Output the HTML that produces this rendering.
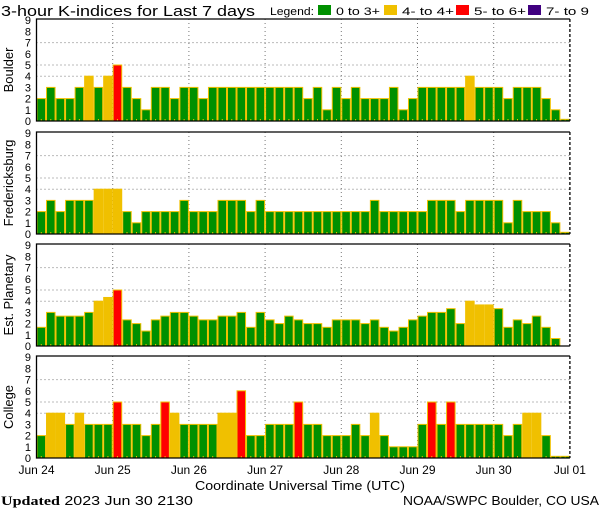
<!DOCTYPE html>
<html><head><meta charset="utf-8"><style>
body{margin:0;background:#fff;}
svg{display:block;font-family:"Liberation Sans",sans-serif;}
</style></head><body>
<svg id="s" width="600" height="510" xmlns="http://www.w3.org/2000/svg">
<text x="1" y="16" font-size="15" textLength="254" lengthAdjust="spacingAndGlyphs">3-hour K-indices for Last 7 days</text>
<text x="270" y="15" font-size="11" textLength="44" lengthAdjust="spacingAndGlyphs">Legend:</text>
<rect x="318" y="5" width="13" height="10" fill="#009000"/>
<text x="336" y="15" font-size="11" textLength="44" lengthAdjust="spacingAndGlyphs">0 to 3+</text>
<rect x="384" y="5" width="13" height="10" fill="#f0c000"/>
<text x="402" y="15" font-size="11" textLength="52" lengthAdjust="spacingAndGlyphs">4- to 4+</text>
<rect x="456" y="5" width="13" height="10" fill="#ff0000"/>
<text x="474" y="15" font-size="11" textLength="52" lengthAdjust="spacingAndGlyphs">5- to 6+</text>
<rect x="528" y="5" width="13" height="10" fill="#400080"/>
<text x="546" y="15" font-size="11" textLength="43" lengthAdjust="spacingAndGlyphs">7- to 9</text>
<text x="300" y="490" font-size="13" text-anchor="middle" textLength="210" lengthAdjust="spacingAndGlyphs">Coordinate Universal Time (UTC)</text>
<text x="1" y="505" font-size="13" textLength="192" lengthAdjust="spacingAndGlyphs"><tspan font-weight="bold" font-family="Liberation Serif">Updated</tspan> 2023 Jun 30 2130</text>
<text x="599" y="505" font-size="13" text-anchor="end" textLength="196" lengthAdjust="spacingAndGlyphs">NOAA/SWPC Boulder, CO USA</text>
</svg>
<script>
var s=document.getElementById('s'),NS='http://www.w3.org/2000/svg';
function el(t,a,txt){var e=document.createElementNS(NS,t);for(var k in a)e.setAttribute(k,a[k]);if(txt!=null)e.textContent=txt;s.appendChild(e);return e;}
var t=1/3;
var data=[
["Boulder",19,[2,3,2,2,3,4,3,4,5,3,2,1,3,3,2,3,3,2,3,3,3,3,3,3,3,3,3,3,2,3,1,3,2,3,2,2,2,3,1,2,3,3,3,3,3,4,3,3,3,2,3,3,3,2,1,0.15]],
["Fredericksburg",132,[2,3,2,3,3,3,4,4,4,2,1,2,2,2,2,3,2,2,2,3,3,3,2,3,2,2,2,2,2,2,2,2,2,2,2,3,2,2,2,2,2,3,3,3,2,3,3,3,3,1,3,2,2,2,1,0.15]],
["Est. Planetary",244,[2-t,3,3-t,3-t,3-t,3,4,4+t,5,2+t,2,1+t,2+t,3-t,3,3,3-t,2+t,2+t,3-t,3-t,3,2-t,3,2+t,2,3-t,2+t,2,2,2-t,2+t,2+t,2+t,2,2+t,2-t,1+t,2-t,2+t,3-t,3,3,3+t,2,4,4-t,4-t,3+t,2-t,2+t,2,3-t,2-t,1-t,null]],
["College",356,[2,4,4,3,4,3,3,3,5,3,3,2,3,5,4,3,3,3,3,4,4,6,2,2,3,3,3,5,3,3,2,2,2,3,2,4,2,1,1,1,3,5,3,5,3,3,3,3,3,2,3,4,4,2,0.15,0.15]]];
var x0=36.5,dw=76.2,bw=dw/8,U=11.2,H=102,x1=x0+dw*7;
data.forEach(function(p){
 var top=p[1],bot=top+H;
 [4,5,7].forEach(function(v){el('line',{x1:x0,x2:x1,y1:bot-v*U,y2:bot-v*U,stroke:'#777','stroke-dasharray':'1 3'});});
 for(var d=1;d<7;d++)el('line',{x1:x0+d*dw,x2:x0+d*dw,y1:top,y2:bot,stroke:'#777','stroke-dasharray':'1 3'});
 p[2].forEach(function(v,i){if(v==null)return;var c=v>=6.6?'#400080':v>=4.6?'#ff0000':v>=3.6?'#f0c000':'#009000';
  var h=v*U;el('rect',{x:x0+i*bw+0.5,y:bot-h,width:bw-1,height:h,fill:c,stroke:'#f0c000','stroke-width':1});
  el('line',{x1:x0+i*bw+bw/2,x2:x0+i*bw+bw/2,y1:bot-2,y2:bot,stroke:'#f0c000'});});
 el('path',{d:'M'+x1+' '+top+'H'+x0+'V'+bot+'H'+x1,fill:'none',stroke:'#000','stroke-width':1.3});
 el('line',{x1:x1,x2:x1,y1:top,y2:bot,stroke:'#000','stroke-dasharray':'3 2','stroke-width':1.3});
 for(var v=0;v<=9;v++)el('text',{x:31,y:bot-v*U+4,'font-size':11,'text-anchor':'end'},v);
 var cy=top+H/2;el('text',{x:0,y:0,'font-size':13,'text-anchor':'middle',transform:'translate(13,'+cy+') rotate(-90)'},p[0]);
});
var labs=['Jun 24','Jun 25','Jun 26','Jun 27','Jun 28','Jun 29','Jun 30','Jul 01'];
labs.forEach(function(l,i){el('text',{x:x0+i*dw,y:474,'font-size':12,'text-anchor':'middle'},l);});
</script>
</body></html>
